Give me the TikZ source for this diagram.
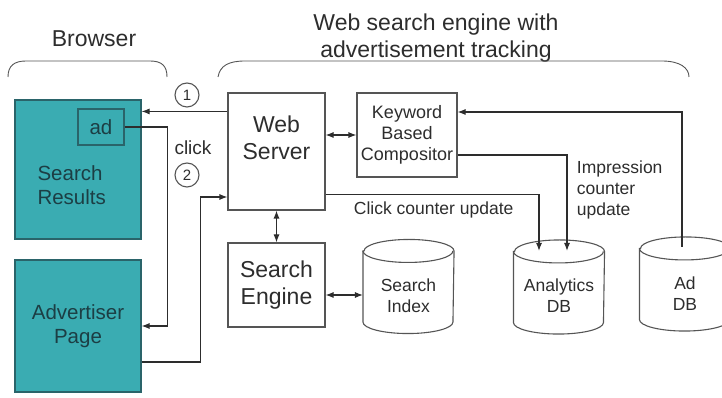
\documentclass[tikz,border=0pt]{standalone}
\usepackage{fontspec}
\setmainfont{Liberation Sans}
\usetikzlibrary{arrows.meta,positioning}

\definecolor{tealfill}{RGB}{58,172,178}
\definecolor{tealedge}{RGB}{42,100,106}
\definecolor{tealtext}{RGB}{28,62,68}
\definecolor{inkgray}{RGB}{45,45,45}
\definecolor{edgegray}{RGB}{85,85,85}

% outline of a database drum around a (rectangular) node
\newcommand{\drawdb}[1]{%
\draw[edgegray,fill=white] ([yshift=-11.5pt]#1.north west) -- ([yshift=11.5pt]#1.south west)
  arc[start angle=180,end angle=360,x radius=45pt,y radius=11.5pt]
  -- ([yshift=-11.5pt]#1.north east)
  arc[start angle=0,end angle=180,x radius=45pt,y radius=11.5pt] -- cycle;
\draw[edgegray] ([yshift=-11.5pt]#1.north west)
  arc[start angle=180,end angle=360,x radius=45pt,y radius=11.5pt];}

\begin{document}
\begin{tikzpicture}[x=1pt,y=1pt,>={Latex[length=8pt,width=6pt]},
line width=1.1pt,color=inkgray]
\tikzstyle{every node}=[font=\fontsize{17.5}{21}\selectfont]
\tikzstyle{page}=[draw=tealedge,fill=tealfill,text=tealtext,inner sep=0pt,font=\fontsize{20.5}{24}\selectfont]
\tikzstyle{block}=[draw=edgegray,fill=white,inner sep=0pt,minimum width=97pt]
\tikzstyle{bigtext}=[align=center,inner sep=0pt,font=\fontsize{23}{27}\selectfont]
\tikzstyle{db}=[rectangle,minimum width=90pt,minimum height=93pt,inner sep=0pt]
\tikzstyle{dbtext}=[align=center,inner sep=0pt]
\tikzstyle{numcircle}=[circle,draw=edgegray,minimum size=24pt,inner sep=0pt,font=\fontsize{15}{18}\selectfont]

\useasboundingbox (0,0) rectangle (722,398);

% browser side
\node[bigtext] (browsertitle) at (94,359) {Browser};
\draw[edgegray,line width=0.9pt] (8,321) .. controls (8,332) and (14,337) .. (26,337) -- (150,337) .. controls (162,337) and (167,332) .. (167,321);

\node[page,minimum width=126pt,minimum height=139pt] (results) at (78,228.5) {};
\node[dbtext,text=tealtext,align=left,anchor=west,font=\fontsize{20.5}{24}\selectfont] (resultstext) at (37,213) {Search\\Results};
\node[page,minimum width=46pt,minimum height=36pt] (ad) at (101,271) {ad};
\node[page,minimum width=126pt,minimum height=132pt,align=center] (advert) at (78,72) {Advertiser\\Page};

\node[numcircle] (one) at (187,303) {1};
\node[numcircle] (two) at (187,223) {2};
\node[font=\fontsize{19}{22}\selectfont] (click) at (193,250) {click};

% search engine side
\node[bigtext] (enginetitle) at (436,360) {Web search engine with\\advertisement tracking};
\draw[edgegray,line width=0.9pt] (218,321) .. controls (220,332) and (228,337) .. (245,337) -- (662,337) .. controls (680,337) and (689,330) .. (689,321);

\node[block,minimum height=117pt] (web) at (276.5,246.5) {};
\node[bigtext] (webtext) at ([yshift=14pt]web.center) {Web\\Server};
\node[block,minimum width=100pt,minimum height=84pt,align=center,font=\fontsize{18}{21}\selectfont] (kbc) at (407,263) {Keyword\\Based\\Compositor};
\node[block,minimum height=84pt,align=center,font=\fontsize{23}{27}\selectfont] (se) at (276.5,113) {Search\\Engine};

\node[db] (sidx) at (408.5,111.5) {};
\node[db] (ana) at (559,111) {};
\node[db] (addb) at (685,114) {};
\drawdb{sidx}
\drawdb{ana}
\drawdb{addb}
\node[dbtext] (sidxtext) at ([yshift=-9.5pt]sidx.center) {Search\\Index};
\node[dbtext] (anatext) at ([yshift=-9pt]ana.center) {Analytics\\DB};
\node[dbtext] (addbtext) at ([yshift=-10pt]addb.center) {Ad\\DB};

\node[anchor=base west] (clicklabel) at (350,183) {Click counter update};
\node[anchor=west,align=left] (impressionlabel) at (573,208) {Impression\\counter\\update};

% connectors
\coordinate (toresults) at ([yshift=-19pt]web.north west);
\draw[->] (toresults) -- (toresults -| results.east);
\draw[->] (ad.east) -- ++(43,0) |- (advert.east);
\coordinate (fromadvert) at ([yshift=-36pt]advert.east);
\coordinate (intoweb) at ([yshift=-45.5pt]web.west);
\draw[->] (fromadvert) -- ++(59,0) |- (intoweb);
\draw[<->] (kbc.west) -- (kbc.west -| web.east);
\draw[<->] (web.south) -- (se.north);
\coordinate (toindex) at ([yshift=-10pt]se.east);
\draw[<->] (toindex) -- (toindex -| sidx.west);
\coordinate (adtop) at ([xshift=-3pt,yshift=-10pt]addb.north);
\draw[->] (adtop) |- ([yshift=23pt]kbc.east);
\draw[->] ([yshift=-20pt]kbc.east) -| ([xshift=8pt,yshift=-11pt]ana.north);
\draw[->] ([yshift=16pt]web.south east) -| ([xshift=-20pt,yshift=-11pt]ana.north);
\end{tikzpicture}
\end{document}
